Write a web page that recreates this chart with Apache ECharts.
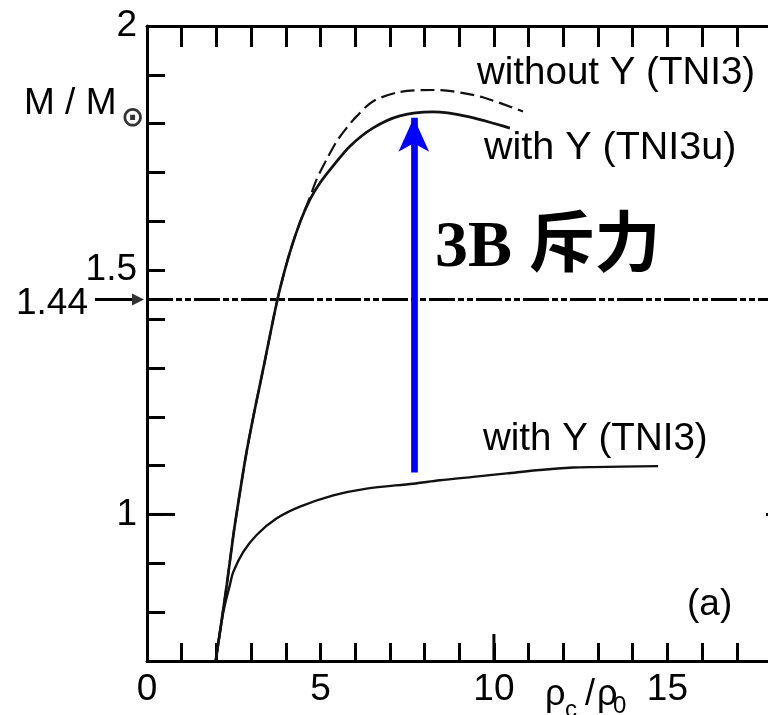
<!DOCTYPE html>
<html>
<head>
<meta charset="utf-8">
<script src="https://cdn.jsdelivr.net/npm/echarts@6/dist/echarts.min.js"></script>
<style>
  html, body { margin: 0; padding: 0; background: #fff; }
  #chart { width: 768px; height: 715px; }
</style>
</head>
<body>
<div id="chart"></div>
<script>
// Mass vs. central density (rho_c / rho_0) for three equations of state.

// without Y (TNI3), dashed
const noHypX = [1.98, 2.30, 2.49, 2.68, 2.87, 3.11, 3.35, 3.64, 3.83, 4.12, 4.41, 4.70, 4.89, 5.18, 5.47, 5.75, 6.04, 6.52, 7.29, 8.25, 8.82, 9.68, 10.84];
const noHypY = [0.700, 0.856, 0.958, 1.046, 1.128, 1.216, 1.298, 1.400, 1.461, 1.537, 1.598, 1.650, 1.686, 1.727, 1.764, 1.791, 1.815, 1.846, 1.865, 1.869, 1.866, 1.854, 1.825];

// with Y (TNI3u), solid
const tni3uX = [1.98, 2.30, 2.49, 2.68, 2.87, 3.11, 3.35, 3.64, 3.83, 4.12, 4.41, 4.70, 4.99, 5.36, 5.85, 6.51, 7.29, 8.24, 9.22, 10.46];
const tni3uY = [0.700, 0.856, 0.958, 1.046, 1.128, 1.216, 1.298, 1.400, 1.461, 1.537, 1.598, 1.645, 1.679, 1.713, 1.754, 1.791, 1.816, 1.824, 1.815, 1.791];

// with Y (TNI3), solid
const tni3X = [1.98, 2.20, 2.39, 2.49, 2.78, 3.16, 3.74, 4.41, 5.37, 6.33, 7.67, 8.44, 9.40, 10.37, 11.33, 12.28, 12.85, 14.73];
const tni3Y = [0.700, 0.800, 0.856, 0.883, 0.924, 0.958, 0.992, 1.016, 1.039, 1.053, 1.063, 1.070, 1.077, 1.084, 1.091, 1.096, 1.097, 1.099];

// axis ranges and labelled ticks
const xRange = [0, 18.65];
const yRange = [0.7, 2];
const xTickLabels = [0, 5, 10, 15];
const yTickLabels = [1, 1.5, 2];
const xLongTick = 10;
const yLongTick = 1;
const chandrasekhar = 1.44;

// arrow showing the three-body repulsion shift
const arrowX = 7.69;
const arrowFromY = 1.086;
const arrowTipY = 1.812;

const pairs = (xs, ys) => xs.map((x, i) => [x, ys[i]]);

const FONT = '"Liberation Sans", Arial, sans-serif';
const BLACK = '#000';

const chart = echarts.init(document.getElementById('chart'), null, { renderer: 'canvas' });

const lineAxis = { show: true, onZero: false, lineStyle: { color: BLACK, width: 3 } };

function xAxisBase(extra) {
  return Object.assign({
    type: 'value', min: xRange[0], max: xRange[1], interval: 1,
    splitLine: { show: false }, axisLabel: { show: false }
  }, extra);
}
function yAxisBase(extra) {
  return Object.assign({
    type: 'value', min: yRange[0], max: yRange[1], interval: 0.1,
    splitLine: { show: false }, axisLabel: { show: false }
  }, extra);
}

const option = {
  animation: false,
  backgroundColor: '#fff',
  grid: { left: 147, top: 26, width: 647, height: 635, outerBoundsMode: 'none', containLabel: false },
  xAxis: [
    xAxisBase({
      position: 'bottom', axisLine: lineAxis,
      axisTick: { show: true, inside: true, length: 18, lineStyle: { color: BLACK, width: 3 } },
      axisLabel: {
        show: true, customValues: xTickLabels, margin: 10,
        fontFamily: FONT, fontSize: 37, color: BLACK,
        formatter: v => String(Math.round(v))
      }
    }),
    xAxisBase({
      position: 'top', axisLine: lineAxis,
      axisTick: { show: true, inside: true, length: 21, lineStyle: { color: BLACK, width: 3 } }
    })
  ],
  yAxis: [
    yAxisBase({
      position: 'left', axisLine: lineAxis,
      axisTick: { show: true, inside: true, length: 18, lineStyle: { color: BLACK, width: 3 } },
      axisLabel: {
        show: true, customValues: yTickLabels, margin: 10,
        fontFamily: FONT, fontSize: 37, color: BLACK,
        formatter: v => (Math.abs(v - Math.round(v)) < 1e-6 ? String(Math.round(v)) : v.toFixed(1))
      }
    }),
    yAxisBase({
      position: 'right', axisLine: lineAxis,
      axisTick: { show: true, inside: true, length: 18, lineStyle: { color: BLACK, width: 3 } }
    })
  ],
  series: [
    {
      name: 'without Y (TNI3)', type: 'line', data: pairs(noHypX, noHypY),
      showSymbol: false, smooth: 0.3, silent: true,
      lineStyle: { color: '#111', width: 2.2, type: [14, 6] }
    },
    {
      name: 'with Y (TNI3u)', type: 'line', data: pairs(tni3uX, tni3uY),
      showSymbol: false, smooth: 0.3, silent: true,
      lineStyle: { color: '#111', width: 2.7 },
      markLine: {
        silent: true, symbol: ['none', 'none'], label: { show: false },
        lineStyle: { color: BLACK, width: 3, type: [26, 3, 6, 3, 6, 3] },
        data: [{ yAxis: chandrasekhar }]
      }
    },
    {
      name: 'with Y (TNI3)', type: 'line', data: pairs(tni3X, tni3Y),
      showSymbol: false, smooth: 0.3, silent: true,
      lineStyle: { color: '#111', width: 2.4 },
      markLine: {
        silent: true, symbol: ['none', 'arrow'], symbolSize: [23, 34],
        label: { show: false },
        lineStyle: { color: '#0000ff', width: 6.7, type: 'solid' },
        data: [[{ coord: [arrowX, arrowFromY] }, { coord: [arrowX, arrowTipY] }]]
      }
    }
  ]
};

chart.setOption(option);

// annotations and the longer ticks, placed from axis values
const y144 = chart.convertToPixel({ yAxisIndex: 0 }, chandrasekhar);
const xLeft = chart.convertToPixel({ xAxisIndex: 0 }, xRange[0]);
const xRight = chart.convertToPixel({ xAxisIndex: 0 }, xRange[1]);
const yBottom = chart.convertToPixel({ yAxisIndex: 0 }, yRange[0]);
const x10 = chart.convertToPixel({ xAxisIndex: 0 }, xLongTick);
const y1 = chart.convertToPixel({ yAxisIndex: 0 }, yLongTick);

function label(text, x, y, size, extra) {
  return {
    type: 'text', x: x, y: y, silent: true,
    style: Object.assign({
      text: text, font: size + 'px ' + FONT, fill: BLACK,
      align: 'left', verticalAlign: 'middle'
    }, extra || {})
  };
}
function seg(x1, y1p, x2, y2p, w) {
  return {
    type: 'line', silent: true,
    shape: { x1: x1, y1: y1p, x2: x2, y2: y2p },
    style: { stroke: BLACK, lineWidth: w || 3 }
  };
}

chart.setOption({
  graphic: [
    seg(x10, yBottom, x10, yBottom - 27),
    seg(xLeft, y1, xLeft + 28, y1),
    seg(xRight, y1, xRight - 28, y1),
    label('without Y (TNI3)', 477, 73, 38.5),
    label('with Y (TNI3u)', 484, 148, 39.5),
    label('with Y (TNI3)', 483, 439, 38.5),
    label('(a)', 687, 605, 37),
    label('M / M', 24, 104, 37),
    label('\u2299', 121, 119, 28, { font: 'bold 28px "DejaVu Sans", sans-serif', fill: '#333' }),
    label('1.44', 88, y144 + 4, 37, { align: 'right' }),
    label('\u03C1', 545, 695, 36),
    label('c', 565, 710, 24),
    label('/', 585, 695, 36),
    label('\u03C1', 597, 695, 36),
    label('0', 613, 706, 24),
    {
      type: 'text', x: 435, y: 249, silent: true,
      style: {
        text: '3B \u65A5\u529B', fill: BLACK, align: 'left', verticalAlign: 'middle',
        font: 'bold 66px "Liberation Serif", "Noto Sans CJK SC", serif'
      }
    },
    seg(95, y144, 136, y144),
    {
      type: 'polygon', silent: true,
      shape: { points: [[132, y144 - 6], [xLeft - 3, y144], [132, y144 + 6]] },
      style: { fill: '#333' }
    }
  ]
});
</script>
</body>
</html>
